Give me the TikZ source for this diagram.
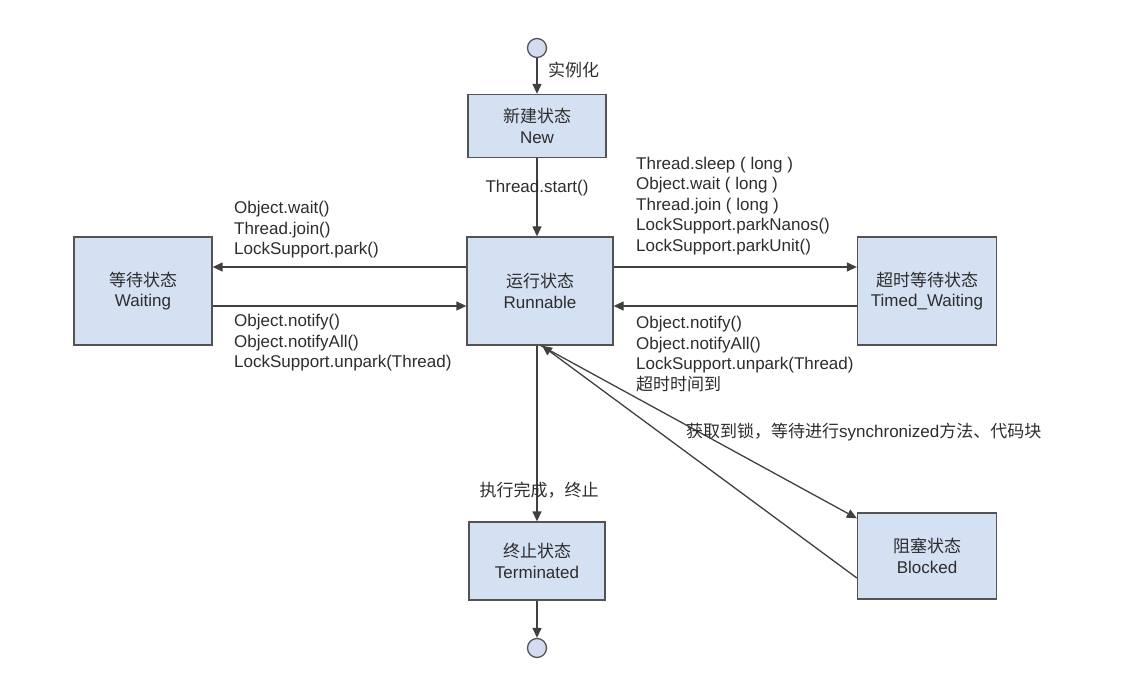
\documentclass[tikz,border=0pt]{standalone}
\usepackage{fontspec}
\setmainfont{Liberation Sans}
\newfontfamily\cjk{Noto Sans CJK SC}
\usepackage{tikz}
\usetikzlibrary{arrows.meta, positioning}

\definecolor{boxfill}{RGB}{212,225,242}
\definecolor{dotfill}{RGB}{214,220,240}
\definecolor{ink}{RGB}{64,64,64}
\definecolor{txt}{RGB}{45,45,45}

\begin{document}
\begin{tikzpicture}[
    x=1pt, y=-1pt,
    font=\fontsize{17}{20.5}\selectfont, text=txt,
    state/.style={rectangle, draw=ink!90, fill=boxfill, line width=1.3pt, align=center, inner sep=0pt},
    dot/.style={circle, draw=ink!90, fill=dotfill, line width=1.3pt, minimum size=19pt, inner sep=0pt},
    trans/.style={-{Triangle[length=10pt, width=9pt]}, draw=ink, line width=1.3pt},
    lbl/.style={align=left, inner sep=0pt, anchor=west}
]
    \useasboundingbox (0,0) rectangle (1140,684);

    % States
    \node[dot] (start) at (537,48) {};
    \node[state, minimum width=138pt, minimum height=63pt] (new) at (537,126) {{\cjk 新建状态}\\New};
    \node[state, minimum width=146pt, minimum height=108pt] (run) at (540,291) {{\cjk 运行状态}\\Runnable};
    \node[state, minimum width=138pt, minimum height=108pt] (wait) at (143,291) {{\cjk 等待状态}\\Waiting};
    \node[state, minimum width=139pt, minimum height=108pt] (timed) at (927,291) {{\cjk 超时等待状态}\\Timed\_Waiting};
    \node[state, minimum width=136pt, minimum height=78pt] (term) at (537,561) {{\cjk 终止状态}\\Terminated};
    \node[state, minimum width=139pt, minimum height=86pt] (blocked) at (927,556) {{\cjk 阻塞状态}\\Blocked};
    \node[dot] (end) at (537,648) {};

    % Transitions
    \draw[trans] (start) -- (new);
    \draw[trans] (new.south) -- (new.south |- run.north);
    \draw[trans] ([yshift=24pt]run.west) -- ([yshift=24pt]wait.east);
    \draw[trans] ([yshift=-15pt]wait.east) -- ([yshift=-15pt]run.west);
    \draw[trans] ([yshift=24pt]run.east) -- ([yshift=24pt]timed.west);
    \draw[trans] ([yshift=-15pt]timed.west) -- ([yshift=-15pt]run.east);
    \draw[trans] (new.south |- run.south) -- (term.north);
    \draw[trans] (term) -- (end);
    \draw[trans] ([xshift=1pt]run.south) -- ([yshift=-6pt]blocked.north west);
    \draw[trans] ([yshift=-22pt]blocked.west) -- ([xshift=2pt]run.south);

    % Labels
    \node[lbl] (inst) at (548,70) {\cjk 实例化};
    \node[inner sep=0pt] (startlbl) at (537,188) {Thread.start()};
    \node[lbl] (towait) at (234,230) {Object.wait()\\Thread.join()\\LockSupport.park()};
    \node[lbl] (fromwait) at (234,343) {Object.notify()\\Object.notifyAll()\\LockSupport.unpark(Thread)};
    \node[lbl] (totimed) at (636,206) {Thread.sleep ( long )\\Object.wait ( long )\\Thread.join ( long )\\LockSupport.parkNanos()\\LockSupport.parkUnit()};
    \node[lbl] (fromtimed) at (636,354) {Object.notify()\\Object.notifyAll()\\LockSupport.unpark(Thread)\\{\cjk 超时时间到}};
    \node[lbl] (sync) at (686,432) {{\cjk 获取到锁，等待进行}synchronized{\cjk 方法、代码块}};
    \node[inner sep=0pt] (done) at (539,490) {\cjk 执行完成，终止};
\end{tikzpicture}
\end{document}
